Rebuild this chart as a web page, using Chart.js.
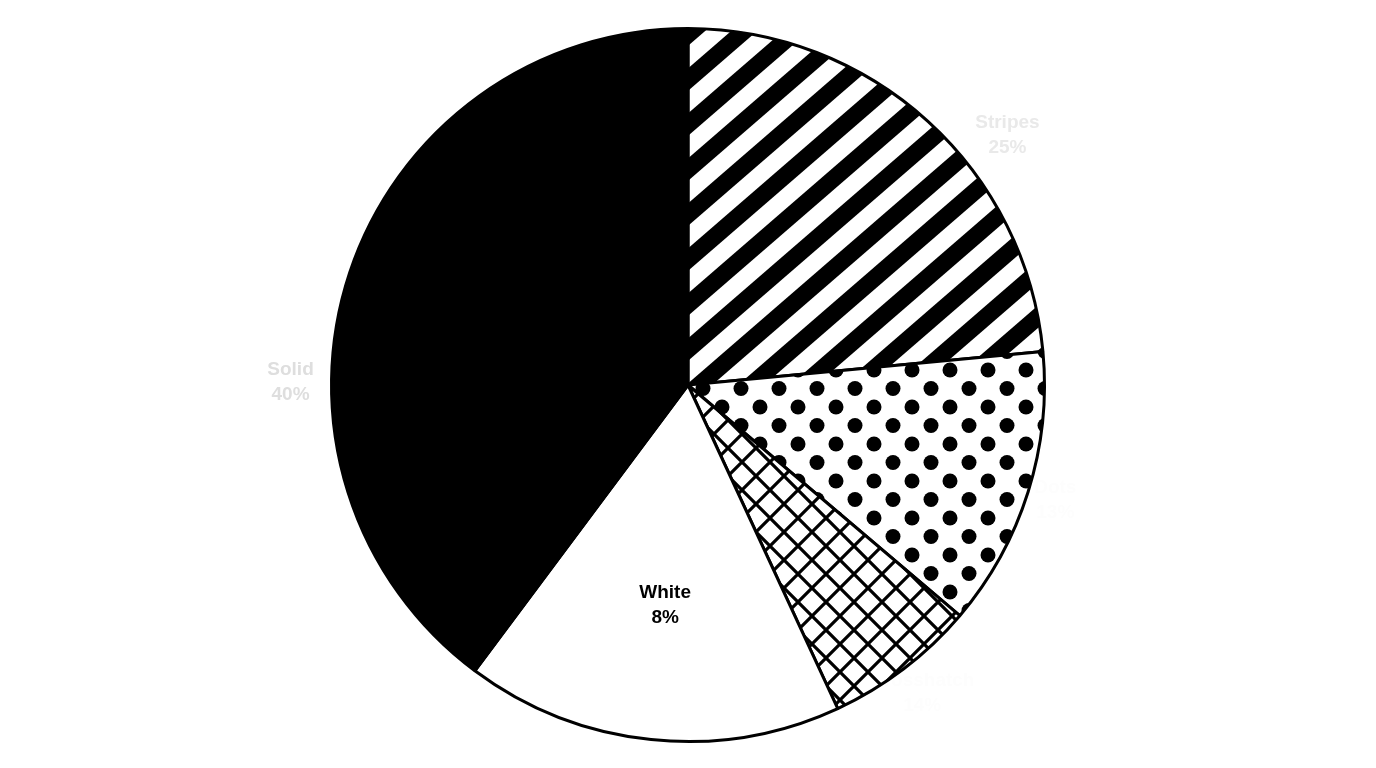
<!DOCTYPE html>
<html>
<head>
<meta charset="utf-8">
<script src="https://cdn.jsdelivr.net/npm/chart.js@4"></script>
<style>
  html, body { margin: 0; padding: 0; background: #fff; }
  canvas { display: block; }
</style>
</head>
<body>
<canvas id="pieChart" width="1376" height="768"></canvas>
<script>
// ---------------- Daten ----------------
const categories = ["Stripes", "Dots", "Crosshatch", "White", "Solid"];
const shares     = [23.5, 12.7, 6.9, 17.1, 39.8];
const pctLabels  = ["25%", "13%", "14%", "8%", "40%"];

// label look + placement (angle shift in deg, radius factor)
const labelColors = ["#e9e9e9", "#fdfdfd", "#fdfdfd", "#000000", "#dedede"];
const labelShift  = [9.7, 0, 0, 0, -18];
const labelRadius = [1.137, 1.08, 1.085, 0.62, 1.115];

// ---------------- Muster ----------------
function makeTile(w, h, draw) {
    const c = document.createElement("canvas");
    c.width = w; c.height = h;
    const g = c.getContext("2d");
    g.fillStyle = "#fff";
    g.fillRect(0, 0, w, h);
    draw(g, w, h);
    return document.getElementById("pieChart").getContext("2d").createPattern(c, "repeat");
}

// diagonale Streifen, ca. 41 Grad
const stripePattern = makeTile(52, 45, (g, w, h) => {
    g.strokeStyle = "#000";
    g.lineWidth = 17;
    for (let k = 0; k <= 2; k++) {
        g.beginPath();
        g.moveTo((k - 1) * w - w, h * 2);
        g.lineTo((k - 1) * w + 2 * w, -h);
        g.stroke();
    }
});

const dotPattern = makeTile(38, 37, (g, w, h) => {
    g.fillStyle = "#000";
    const pts = [[0, 0], [w, 0], [0, h], [w, h], [w / 2, h / 2]];
    pts.forEach(p => {
        g.beginPath();
        g.arc(p[0], p[1], 7.5, 0, Math.PI * 2);
        g.fill();
    });
});

const hatchPattern = makeTile(28, 28, (g, w, h) => {
    g.strokeStyle = "#000";
    g.lineWidth = 3.2;
    g.beginPath();
    g.moveTo(-2, -2); g.lineTo(w + 2, h + 2);
    g.moveTo(-2, h + 2); g.lineTo(w + 2, -2);
    g.stroke();
});

// ---------------- Beschriftung ----------------
// outside labels go under the pie, inside labels on top
function drawLabels(chart, outside) {
    const ctx = chart.ctx;
    const arcs = chart.getDatasetMeta(0).data;
    ctx.save();
    ctx.font = "bold 19px 'Liberation Sans', Arial, sans-serif";
    ctx.textAlign = "center";
    ctx.textBaseline = "middle";
    arcs.forEach((arc, i) => {
        if ((labelRadius[i] > 1) !== outside) return;
        const mid = (arc.startAngle + arc.endAngle) / 2 + labelShift[i] * Math.PI / 180;
        const r = arc.outerRadius * labelRadius[i];
        const x = arc.x + Math.cos(mid) * r;
        const y = arc.y + Math.sin(mid) * r;
        ctx.fillStyle = labelColors[i];
        ctx.fillText(categories[i], x, y - 12.5);
        ctx.fillText(pctLabels[i], x, y + 12.5);
    });
    ctx.restore();
}

const sliceLabels = {
    id: "sliceLabels",
    beforeDatasetsDraw(chart) { drawLabels(chart, true); },
    afterDatasetsDraw(chart) { drawLabels(chart, false); }
};

// ---------------- Diagramm ----------------
new Chart(document.getElementById("pieChart"), {
    type: "pie",
    data: {
        labels: categories,
        datasets: [{
            data: shares,
            backgroundColor: [stripePattern, dotPattern, hatchPattern, "#ffffff", "#000000"],
            borderColor: "#000000",
            borderWidth: 3,
            borderAlign: "center"
        }]
    },
    options: {
        responsive: false,
        animation: false,
        layout: { padding: { top: 27, bottom: 25 } },
        plugins: {
            legend: { display: false },
            tooltip: { enabled: false }
        }
    },
    plugins: [sliceLabels]
});
</script>
</body>
</html>
